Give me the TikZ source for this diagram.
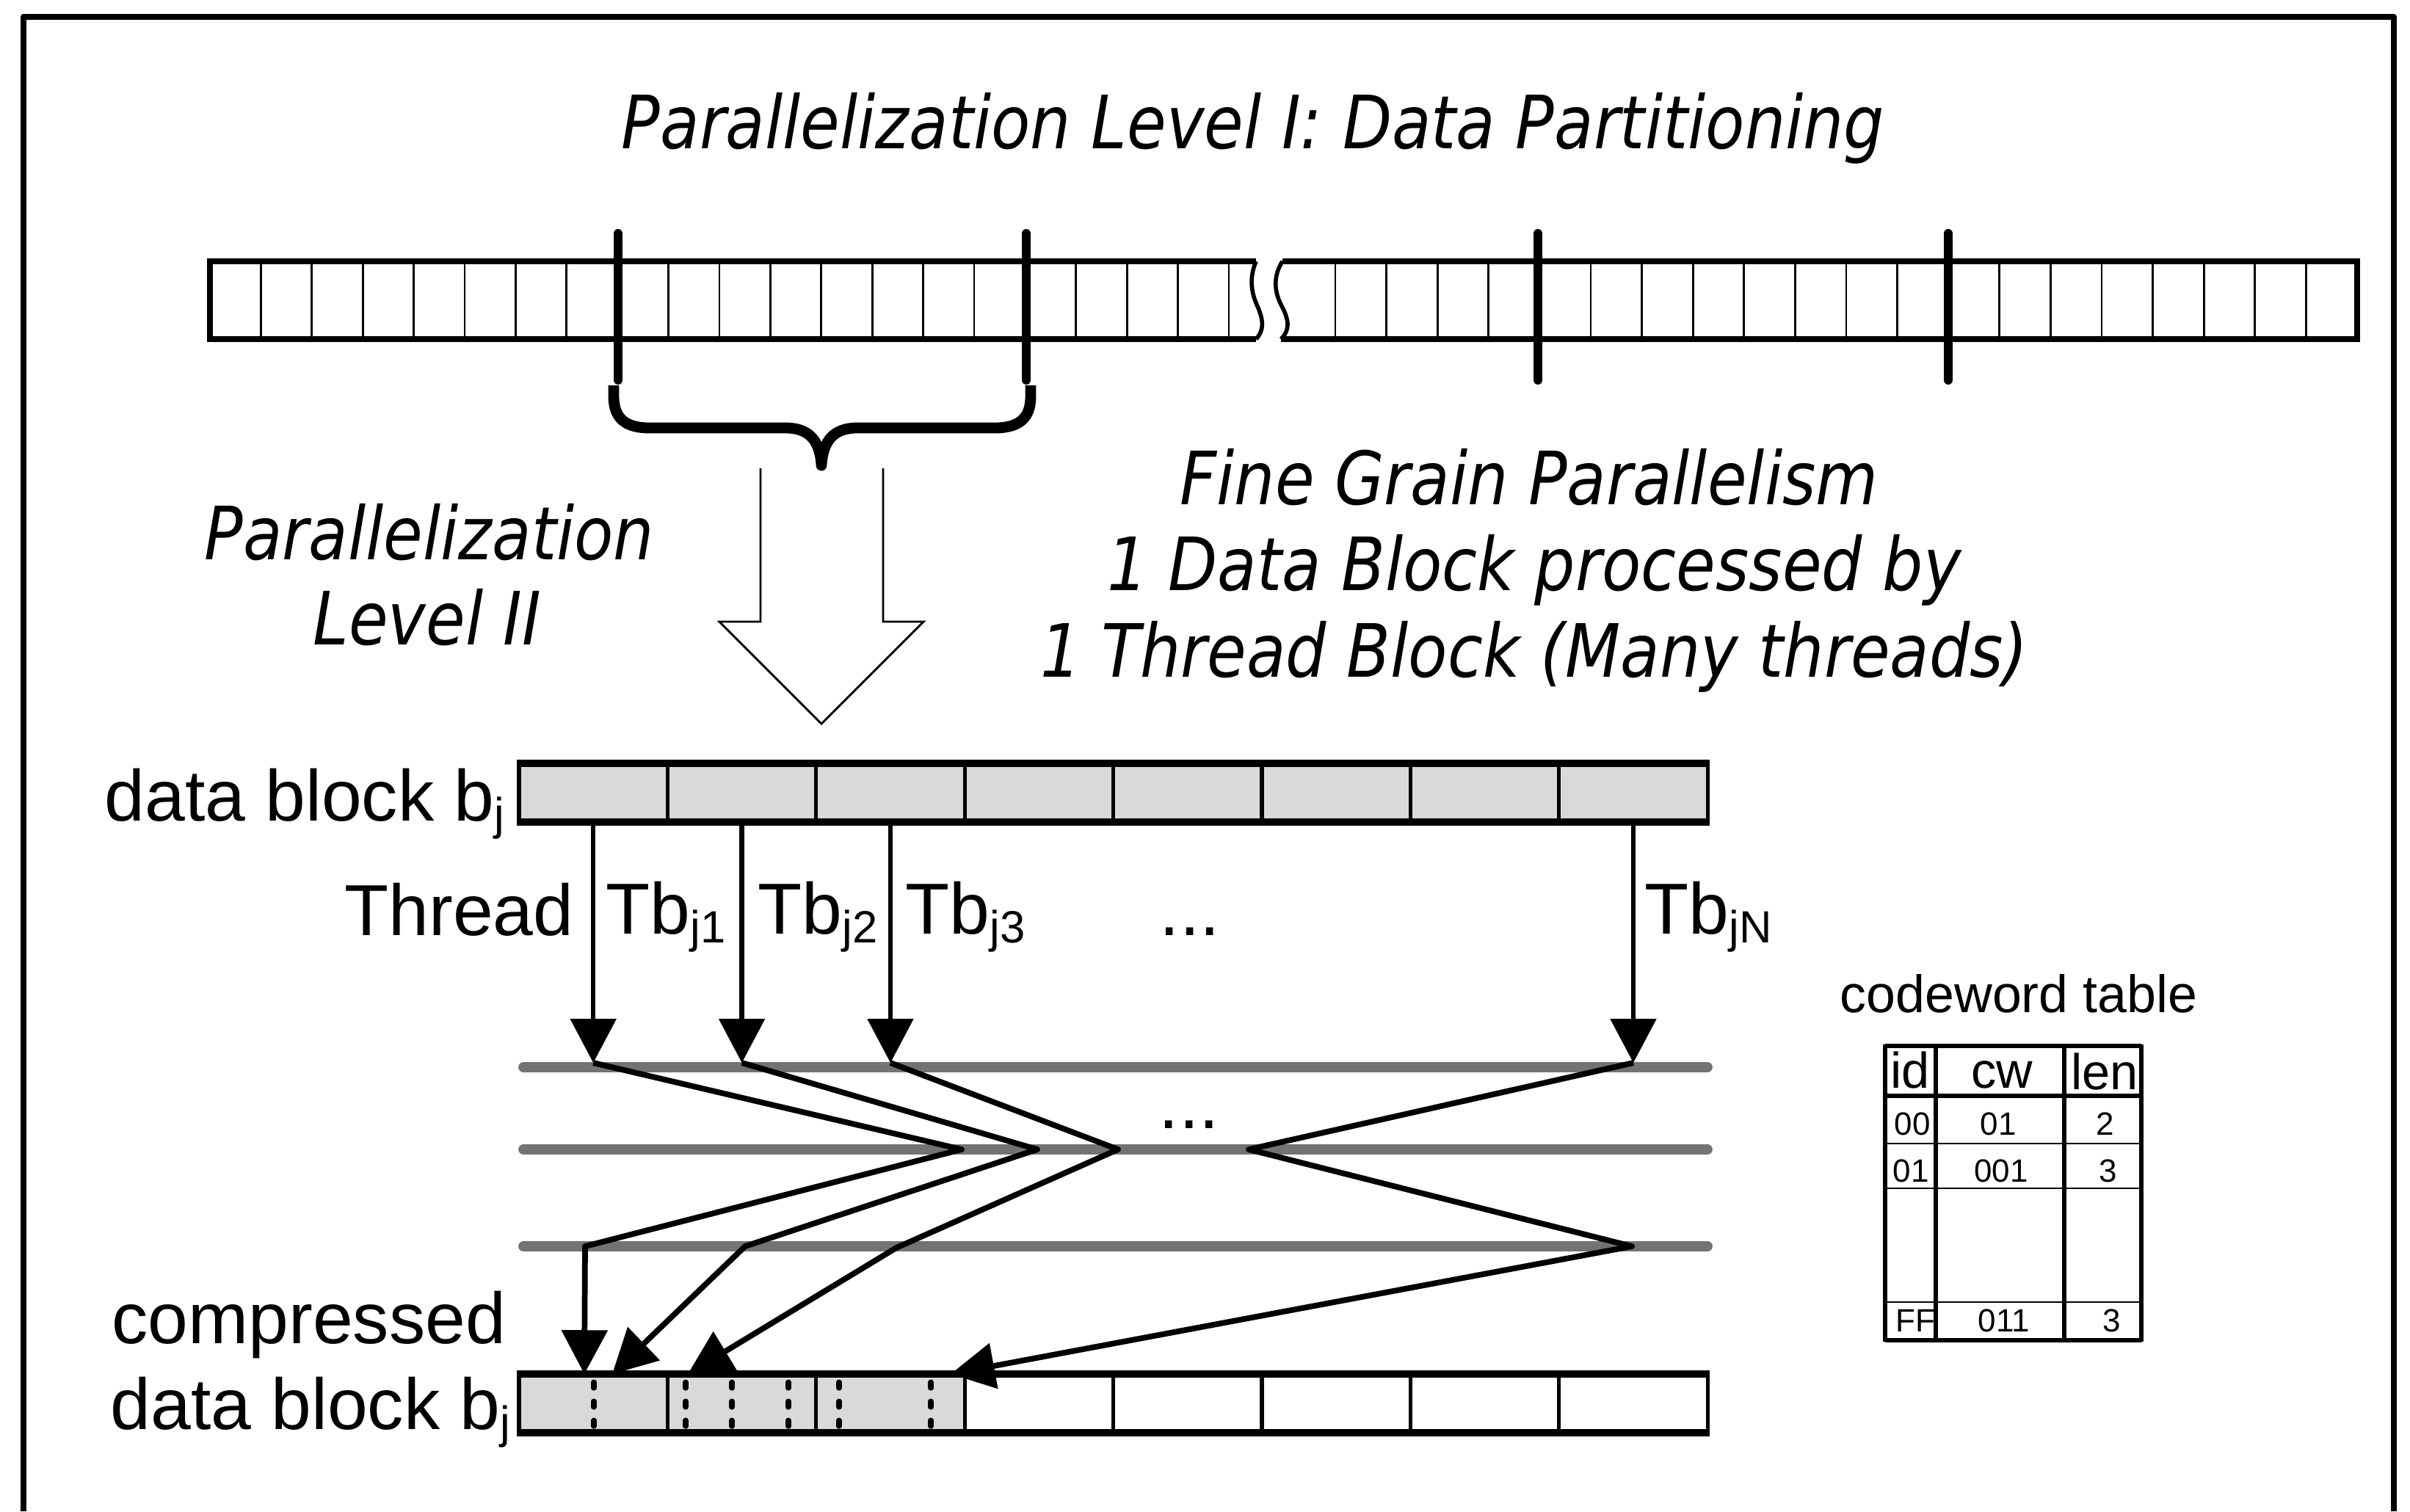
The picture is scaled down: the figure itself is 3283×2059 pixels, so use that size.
\documentclass[tikz,border=0pt]{standalone}
\usepackage{fontspec}
\setmainfont{Liberation Sans}
\newfontfamily\slfont{DejaVu Sans}[FakeStretch=0.87]
\usepackage{tikz}
\usetikzlibrary{arrows.meta}
\definecolor{cellgray}{HTML}{D9D9D9}
\definecolor{railgray}{HTML}{737373}
\newcommand{\lowidx}[1]{\raisebox{-0.13em}{\fontsize{17.5}{18}\selectfont #1}}

\begin{document}
\begin{tikzpicture}[x=0.01cm,y=-0.01cm]
		\tikzstyle{lbl}=[inner sep=0pt,font=\fontsize{28}{34}\selectfont]
		\tikzstyle{itl}=[inner sep=0pt,font=\slfont\itshape\fontsize{28.5}{34}\selectfont]
		\tikzstyle{small}=[inner sep=0pt,font=\fontsize{12.5}{14}\selectfont]
		\tikzstyle{head}=[inner sep=0pt,font=\fontsize{19.5}{22}\selectfont]
		\tikzstyle{dcell}=[draw,fill=cellgray,line width=1.5pt,minimum width=2.024cm,minimum height=0.76cm,inner sep=0pt]
		\tikzstyle{ccell}=[dcell,fill=white]
		\tikzstyle{thread}=[line width=1.8pt,-{Triangle[length=17pt,width=17.5pt]}]
		\tikzstyle{zig}=[line width=2.2pt,line join=round,-{Triangle[length=17pt,width=17.5pt]}]
		\tikzstyle{rail}=[line width=3.9pt,line cap=round,draw=railgray]
		\tikzstyle{cut}=[line width=3.4pt,line cap=round]
		\tikzstyle{cdash}=[line width=2pt,line cap=round,dash pattern=on 2.3pt off 5.1pt]
		\useasboundingbox (0,0) rectangle (3283,2059);
		% frame
		\draw[line width=2.4pt,line join=round] (32,2059) -- (32,23) -- (3261,23) -- (3261,2059);
		\node[itl,anchor=base] (ttl) at (1707,202) {Parallelization Level I: Data Partitioning};
		% input stream
		\draw[line width=2.3pt] (1711,356) -- (286,356) -- (286,462) -- (1711,462);
		\draw[line width=1.6pt] (1711,356) .. controls (1703,375) and (1703,395) .. (1712,415) .. controls (1722,437) and (1722,450) .. (1711,462);
		\draw[line width=2.3pt] (1747,356) -- (3211,356) -- (3211,462) -- (1745,462);
		\draw[line width=1.6pt] (1747,356) .. controls (1735,375) and (1735,395) .. (1745,415) .. controls (1757,437) and (1757,450) .. (1745,462);
		\foreach \k in {1,...,20} \draw[line width=0.8pt] ({286+69.4*\k},359) -- ({286+69.4*\k},459);
		\foreach \k in {1,...,20} \draw[line width=0.8pt] ({3211-69.6*\k},359) -- ({3211-69.6*\k},459);
		\foreach \x in {842,1398,2095,2654} \draw[cut] (\x,318) -- (\x,518);
		% brace
		\draw[line width=4.2pt,line join=round] (836,525) -- (836,540) .. controls (836,570) and (852,583) .. (885,583) -- (1070,583) .. controls (1102,583) and (1117,600) .. (1119,634) .. controls (1121,600) and (1136,583) .. (1168,583) -- (1355,583) .. controls (1388,583) and (1404,570) .. (1404,540) -- (1404,525);
		% hollow arrow
		\draw[line width=0.8pt,line join=miter] (1036,638) -- (1036,847) -- (980,847) -- (1119,986) -- (1258,847) -- (1203,847) -- (1203,638);
		\node[itl,anchor=base] (lv2a) at (585,762) {Parallelization};
		\node[itl,anchor=base] (lv2b) at (582,878) {Level II};
		\node[itl,anchor=base] (fg1) at (2083,687) {Fine Grain Parallelism};
		\node[itl,anchor=base] (fg2) at (2090,804) {1 Data Block processed by};
		\node[itl,anchor=base] (fg3) at (2090,922) {1 Thread Block (Many threads)};
		% data block
		\node[dcell] (d1) at (808.2,1080) {};
		\node[dcell] (d2) at (1010.6,1080) {};
		\node[dcell] (d3) at (1213,1080) {};
		\node[dcell] (d4) at (1415.4,1080) {};
		\node[dcell] (d5) at (1617.8,1080) {};
		\node[dcell] (d6) at (1820.2,1080) {};
		\node[dcell] (d7) at (2022.6,1080) {};
		\node[dcell] (d8) at (2225,1080) {};
		\draw[line width=2.3pt] (d1.north west) -- (d8.north east);
		\draw[line width=2.3pt] (d1.south west) -- (d8.south east);
		\node[lbl,anchor=base east] (dbl) at (688,1118) {data block b\lowidx{j}};
		% threads
		\node[lbl,anchor=base east] (thr) at (782,1274) {Thread};
		\node[lbl,anchor=base west] (tb1) at (825,1272) {Tb\lowidx{j1}};
		\node[lbl,anchor=base west] (tb2) at (1032,1272) {Tb\lowidx{j2}};
		\node[lbl,anchor=base west] (tb3) at (1233,1272) {Tb\lowidx{j3}};
		\node[lbl,anchor=base] (tbd) at (1621,1274) {...};
		\node[lbl,anchor=base west] (tbn) at (2240,1272) {Tb\lowidx{jN}};
		\coordinate (t1) at (808.2,1448);
		\coordinate (t2) at (1010.6,1448);
		\coordinate (t3) at (1213,1448);
		\coordinate (t4) at (2225,1448);
		\draw[thread] (d1.south) -- (t1);
		\draw[thread] (d2.south) -- (t2);
		\draw[thread] (d3.south) -- (t3);
		\draw[thread] (d8.south) -- (t4);
		% rails
		\draw[rail] (713,1454) -- (2326,1454);
		\draw[rail] (713,1566) -- (2326,1566);
		\draw[rail] (713,1698) -- (2326,1698);
		\node[lbl,anchor=base] (rd) at (1620,1537) {...};
		% compressed block
		\node[dcell] (c1) at (808.2,1912) {};
		\node[dcell] (c2) at (1010.6,1912) {};
		\node[dcell] (c3) at (1213,1912) {};
		\node[ccell] (c4) at (1415.4,1912) {};
		\node[ccell] (c5) at (1617.8,1912) {};
		\node[ccell] (c6) at (1820.2,1912) {};
		\node[ccell] (c7) at (2022.6,1912) {};
		\node[ccell] (c8) at (2225,1912) {};
		\draw[line width=2.3pt] (c1.north west) -- (c8.north east);
		\draw[line width=2.3pt] (c1.south west) -- (c8.south east);
		\foreach \x in {809,934,997,1074,1143,1268} \draw[cdash] (\x,1883) -- (\x,1946);
		\node[lbl,anchor=base west] (cmp) at (152,1830) {compressed};
		\node[lbl,anchor=base west] (cdb) at (150,1947) {data block b\lowidx{j}};
		% zigzag paths
		\coordinate (m1) at (1310,1566);
		\coordinate (n1) at (797,1698);
		\coordinate (e1) at (796,1872);
		\coordinate (m2) at (1413,1566);
		\coordinate (n2) at (1015,1698);
		\coordinate (e2) at (834,1872);
		\coordinate (m3) at (1523,1566);
		\coordinate (n3) at (1221,1700);
		\coordinate (e3) at (937,1872);
		\coordinate (m4) at (1701,1566);
		\coordinate (n4) at (2223,1698);
		\coordinate (e4) at (1295,1872);
		\draw[zig] (t1) -- (m1) -- (n1) -- (e1);
		\draw[zig] (t2) -- (m2) -- (n2) -- (e2);
		\draw[zig] (t3) -- (m3) -- (n3) -- (e3);
		\draw[zig] (t4) -- (m4) -- (n4) -- (e4);
		% codeword table
		\node[inner sep=0pt,font=\fontsize{20.4}{24}\selectfont,anchor=base] (cwt) at (2750,1379) {codeword table};
		\draw[line width=1.7pt] (2568,1425) -- (2917,1425);
		\draw[line width=1.7pt] (2568,1493) -- (2917,1493);
		\draw[line width=1.7pt] (2568,1826) -- (2917,1826);
		\draw[line width=0.5pt] (2568,1558) -- (2917,1558);
		\draw[line width=0.5pt] (2568,1619) -- (2917,1619);
		\draw[line width=0.5pt] (2568,1774) -- (2917,1774);
		\foreach \x in {2568,2637,2812,2917} \draw[line width=1.7pt] (\x,1423) -- (\x,1828);
		\node[head,anchor=base west] (hid) at (2575,1482) {id};
		\node[head,anchor=base] (hcw) at (2727,1482) {cw};
		\node[head,anchor=base] (hlen) at (2867,1484) {len};
		\node[small,anchor=base west] (r1a) at (2580,1546) {00};
		\node[small,anchor=base] (r1b) at (2722,1546) {01};
		\node[small,anchor=base] (r1c) at (2868,1546) {2};
		\node[small,anchor=base west] (r2a) at (2578,1610) {01};
		\node[small,anchor=base] (r2b) at (2726,1610) {001};
		\node[small,anchor=base] (r2c) at (2872,1610) {3};
		\node[small,anchor=base west] (r3a) at (2582,1814) {FF};
		\node[small,anchor=base] (r3b) at (2730,1814) {011};
		\node[small,anchor=base] (r3c) at (2877,1814) {3};
\end{tikzpicture}
\end{document}
